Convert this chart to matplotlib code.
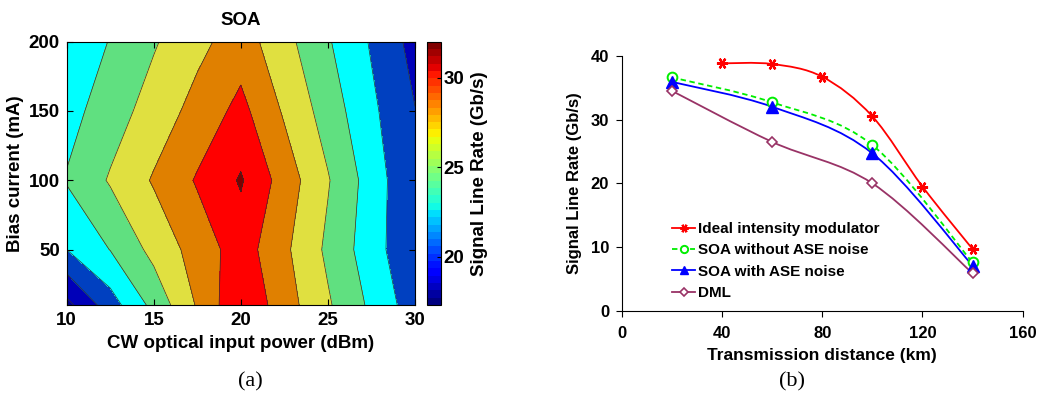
import numpy as np
import matplotlib
matplotlib.use("Agg")
import matplotlib.pyplot as plt
from matplotlib.path import Path
from matplotlib.patches import PathPatch
from matplotlib.lines import Line2D
from matplotlib.cm import ScalarMappable
from matplotlib.colors import Normalize

plt.rcParams['font.family'] = ['Liberation Sans', 'DejaVu Sans']

# ---------------- (a) contour data ----------------
power_dbm = [10, 12.5, 15, 17.5, 20, 22.5, 25, 27.5, 30]
bias_ma = [10, 50, 100, 150, 200]
rate_row_10 = [17.4, 21.1, 24.6, 28.2, 31.8, 28.9, 26.25, 23.6, 20.9]
rate_row_50 = [22.0, 24.05, 26.6, 28.85, 31.0, 28.4, 25.6, 22.9, 20.2]
rate_row_100 = [24.15, 26.2, 28.2, 30.2, 32.2, 29.1, 26.15, 23.1, 20.1]
rate_row_150 = [23.25, 25.05, 26.85, 28.7, 30.6, 27.75, 25.1, 22.4, 20.05]
rate_row_200 = [22.4, 24.1, 25.8, 27.45, 29.0, 26.65, 24.2, 21.8, 19.3]
contour_levels = [17, 18, 20, 22, 24, 26, 28, 30, 32, 33]
contour_colors = ['#000090', '#0000B8', '#0040C0', '#00FFFF', '#60E080',
                  '#E0E040', '#E08000', '#FF0000', '#800000']
cbar_min, cbar_max = 17.3, 32.0
cbar_ticks = [20, 25, 30]

# ---------------- (b) line data ----------------
dist_ideal = [40, 60, 80, 100, 120, 140]
rate_ideal = [38.8, 38.7, 36.7, 30.5, 19.5, 9.7]
dist_soa = [20, 60, 100, 140]
rate_soa_no_ase = [36.6, 32.7, 26.0, 7.6]
rate_soa_ase = [35.9, 32.0, 24.7, 7.1]
rate_dml = [34.5, 26.5, 20.0, 5.9]
labels_b = ['Ideal intensity modulator', 'SOA without ASE noise',
            'SOA with ASE noise', 'DML']

W, H = 1050, 403
fig = plt.figure(figsize=(W / 100, H / 100), dpi=100)

# ---------- panel (a) ----------
ax1 = fig.add_axes([66.7 / W, 1 - 305 / H, 348.3 / W, 263.3 / H])
Z = np.array([rate_row_10, rate_row_50, rate_row_100, rate_row_150, rate_row_200])
X, Y = np.meshgrid(power_dbm, bias_ma)
ax1.contourf(X, Y, Z, levels=contour_levels, colors=contour_colors)
ax1.contour(X, Y, Z, levels=contour_levels[1:-1], colors='#303030', linewidths=0.5)
ax1.set_xlim(10, 30)
ax1.set_ylim(10, 200)
ax1.set_xticks([10, 15, 20, 25, 30])
ax1.set_yticks([50, 100, 150, 200])
ax1.tick_params(direction='in', length=4, top=True, right=True, labelsize=13.5, pad=5)
for lab in ax1.get_xticklabels() + ax1.get_yticklabels():
    lab.set_fontweight('bold')
ax1.set_xlabel('CW optical input power (dBm)', fontsize=13.5, fontweight='bold', labelpad=4)
ax1.set_ylabel('Bias current (mA)', fontsize=13.5, fontweight='bold', labelpad=3)
ax1.set_title('SOA', fontsize=13.5, fontweight='bold', pad=12)

cax = fig.add_axes([427.3 / W, 1 - 305 / H, 13.4 / W, 263.3 / H])
sm = ScalarMappable(norm=Normalize(cbar_min, cbar_max), cmap=plt.get_cmap('jet', 36))
cb = fig.colorbar(sm, cax=cax, ticks=cbar_ticks)
cb.outline.set_linewidth(0.8)
cax.tick_params(direction='in', length=3, labelsize=13.5, pad=2)
for lab in cax.get_yticklabels():
    lab.set_fontweight('bold')
cb.set_label('Signal Line Rate (Gb/s)', fontsize=13.5, fontweight='bold', labelpad=5)

fig.text(250 / W, 1 - 382 / H, '(a)', fontsize=16, family='Liberation Serif',
         ha='center', va='center')

# ---------- panel (b) ----------
ax2 = fig.add_axes([621.7 / W, 1 - 311 / H, 401 / W, 255.3 / H])


def smooth_patch(ax, xs, ys, color, ls='-', lw=1.3):
    pts = np.column_stack([xs, ys]).astype(float)
    verts = [pts[0]]
    codes = [Path.MOVETO]
    n = len(pts)
    for i in range(n - 1):
        p0 = pts[i - 1] if i > 0 else pts[i]
        p1 = pts[i]
        p2 = pts[i + 1]
        p3 = pts[i + 2] if i + 2 < n else pts[i + 1]
        verts += [p1 + (p2 - p0) / 6, p2 - (p3 - p1) / 6, p2]
        codes += [Path.CURVE4] * 3
    ax.add_patch(PathPatch(Path(verts, codes), facecolor='none', edgecolor=color,
                           lw=lw, linestyle=ls, zorder=2))


series = [
    (dist_ideal, rate_ideal, '#FF0000', '-', dict(marker=(6, 2, 90), ms=8, mew=1.6,
                                                   mec='#FF0000', mfc='#FF0000')),
    (dist_soa, rate_soa_no_ase, '#00EE00', (0, (3, 2)), dict(marker='o', ms=7, mew=1.4,
                                                         mec='#00EE00', mfc='white')),
    (dist_soa, rate_soa_ase, '#0000FF', '-', dict(marker='^', ms=8, mew=1,
                                                 mec='#0000FF', mfc='#0000FF')),
    (dist_soa, rate_dml, '#993366', '-', dict(marker='D', ms=5, mew=1.2,
                                             mec='#993366', mfc='white')),
]
handles = []
for (xs, ys, col, ls, mk), lab in zip(series, labels_b):
    smooth_patch(ax2, xs, ys, col, ls=ls)
    ax2.plot(xs, ys, linestyle='none', zorder=3, **mk)
    handles.append(Line2D([], [], color=col, linestyle=ls, lw=1.3, label=lab, **mk))

ax2.set_xlim(0, 160)
ax2.set_ylim(0, 40)
ax2.set_xticks([0, 40, 80, 120, 160])
ax2.set_yticks([0, 10, 20, 30, 40])
for s in ['top', 'right']:
    ax2.spines[s].set_visible(False)
ax2.tick_params(direction='out', length=4, labelsize=12, pad=5)
ax2.tick_params(axis='x', pad=7)
for lab in ax2.get_xticklabels() + ax2.get_yticklabels():
    lab.set_fontweight('bold')
ax2.set_xlabel('Transmission distance (km)', fontsize=12.5, fontweight='bold', labelpad=5)
ax2.set_ylabel('Signal Line Rate (Gb/s)', fontsize=12, fontweight='bold', labelpad=6)

leg = ax2.legend(handles=handles, loc='upper left', bbox_to_anchor=(0.1, 0.39),
                 frameon=False, prop={'weight': 'bold', 'size': 11},
                 handlelength=1.5, handletextpad=0.2, labelspacing=0.48,
                 markerscale=0.75, borderpad=0.2)

fig.text(792 / W, 1 - 382 / H, '(b)', fontsize=16, family='Liberation Serif',
         ha='center', va='center')

fig.savefig('out.png', dpi=100)
